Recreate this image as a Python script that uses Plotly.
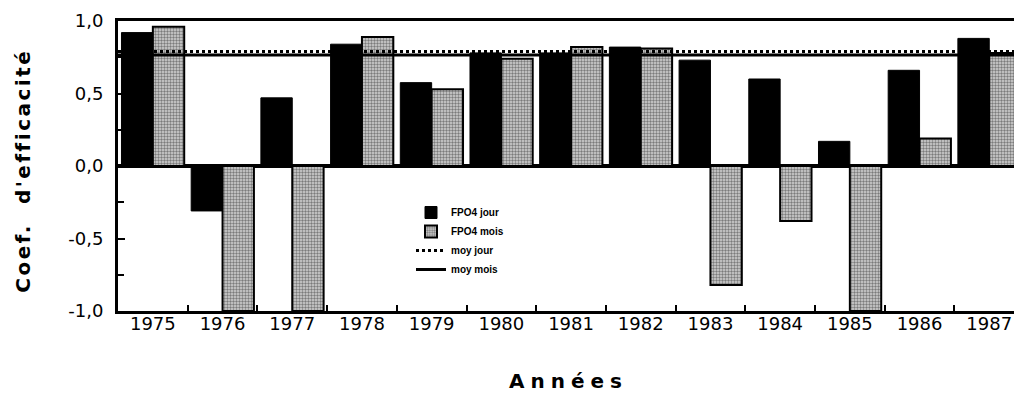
import plotly.graph_objects as go

# Efficiency coefficient per year, daily and monthly FPO4 model
years = [1975, 1976, 1977, 1978, 1979, 1980, 1981, 1982, 1983, 1984, 1985, 1986, 1987]
fpo4_jour = [0.92, -0.31, 0.47, 0.84, 0.575, 0.78, 0.78, 0.82, 0.73, 0.60, 0.17, 0.66, 0.88]
fpo4_mois = [0.96, -1.0, -1.0, 0.89, 0.53, 0.74, 0.82, 0.81, -0.82, -0.38, -1.0, 0.19, 0.78]

# Mean coefficients
moy_jour = 0.79
moy_mois = 0.765

y_tick_vals = [-1.0, -0.5, 0.0, 0.5, 1.0]
y_tick_text = ["-1,0", "-0,5", "0,0", "0,5", "1,0"]
x_tick_text = [str(y) for y in years]

x_span = [years[0] - 0.5, years[-1] + 0.5]
year_bounds = [y + 0.5 for y in years]
x_range = [years[0] - 0.5, years[0] - 0.5 + 896 / 69.7]

fig = go.Figure()

fig.add_trace(go.Bar(
    x=years, y=fpo4_jour, name="FPO4 jour",
    marker=dict(color="black", line=dict(color="black", width=1)),
))
fig.add_trace(go.Bar(
    x=years, y=fpo4_mois, name="FPO4 mois",
    marker=dict(
        color="white",
        line=dict(color="black", width=2),
        pattern=dict(shape=".", size=3, solidity=0.5, fgcolor="#222222", bgcolor="#d4d4d4"),
    ),
))
fig.add_trace(go.Scatter(
    x=x_span, y=[moy_jour, moy_jour], name="moy jour", mode="lines",
    line=dict(color="black", width=3, dash="dot"),
))
fig.add_trace(go.Scatter(
    x=x_span, y=[moy_mois, moy_mois], name="moy mois", mode="lines",
    line=dict(color="black", width=3),
))
# Transparent companion trace so the year-label axis is rendered
fig.add_trace(go.Scatter(
    x=years, y=fpo4_jour, xaxis="x2", mode="markers",
    marker=dict(opacity=0, size=1), showlegend=False, hoverinfo="skip",
))

tick_font = dict(family="DejaVu Sans", size=18, color="black")

fig.update_layout(
    width=1014, height=397,
    margin=dict(l=118, r=0, t=21, b=86),
    paper_bgcolor="white", plot_bgcolor="white",
    barmode="group", bargap=0.1, bargroupgap=0,
    showlegend=True,
    legend=dict(
        x=(411 - 118) / 896, y=(311 - 198) / 290,
        xanchor="left", yanchor="top",
        bgcolor="rgba(0,0,0,0)", borderwidth=0,
        font=dict(family="Liberation Sans", size=10, color="black", weight="bold"),
        tracegroupgap=0,
    ),
    # Frame and year-boundary ticks
    xaxis=dict(
        range=x_range,
        tickvals=year_bounds, showticklabels=False,
        ticks="inside", ticklen=6, tickwidth=2, tickcolor="black",
        showline=True, linecolor="black", linewidth=3, mirror=True,
        showgrid=False, zeroline=False,
    ),
    # Year labels centred on each group
    xaxis2=dict(
        overlaying="x", anchor="y", side="bottom",
        range=x_range,
        tickvals=years, ticktext=x_tick_text,
        ticks="", tickfont=tick_font,
        showline=False, showgrid=False, zeroline=False,
    ),
    yaxis=dict(
        range=[-1.0, 1.0],
        tickvals=y_tick_vals, ticktext=y_tick_text,
        ticks="inside", ticklen=7, tickwidth=2, tickcolor="black",
        tickfont=tick_font, ticklabelstandoff=8,
        showline=True, linecolor="black", linewidth=3, mirror=False,
        showgrid=False,
        zeroline=True, zerolinecolor="black", zerolinewidth=4,
        minor=dict(tick0=-1.0, dtick=0.25, ticks="inside", ticklen=6,
                   tickwidth=2, tickcolor="black", showgrid=False),
    ),
    annotations=[
        dict(text="Années", xref="paper", yref="paper",
             x=(568 - 118) / 896, y=(311 - 381) / 290,
             xanchor="center", yanchor="middle", showarrow=False,
             font=dict(family="DejaVu Sans", size=20, color="black", weight="bold")),
        dict(text="Coef.  d'efficacité", xref="paper", yref="paper",
             x=(23 - 118) / 896, y=(311 - 171) / 290, textangle=-90,
             xanchor="center", yanchor="middle", showarrow=False,
             font=dict(family="DejaVu Sans", size=20, color="black", weight="bold")),
    ],
)

# Widen the letter spacing of the two axis titles
spacing_js = """
document.querySelectorAll('.annotation-text').forEach(function (t) {
  if (t.textContent === 'Années') { t.style.letterSpacing = '6px'; }
  else { t.style.letterSpacing = '2.5px'; }
});
"""

fig.write_html("out.html", post_script=spacing_js)
